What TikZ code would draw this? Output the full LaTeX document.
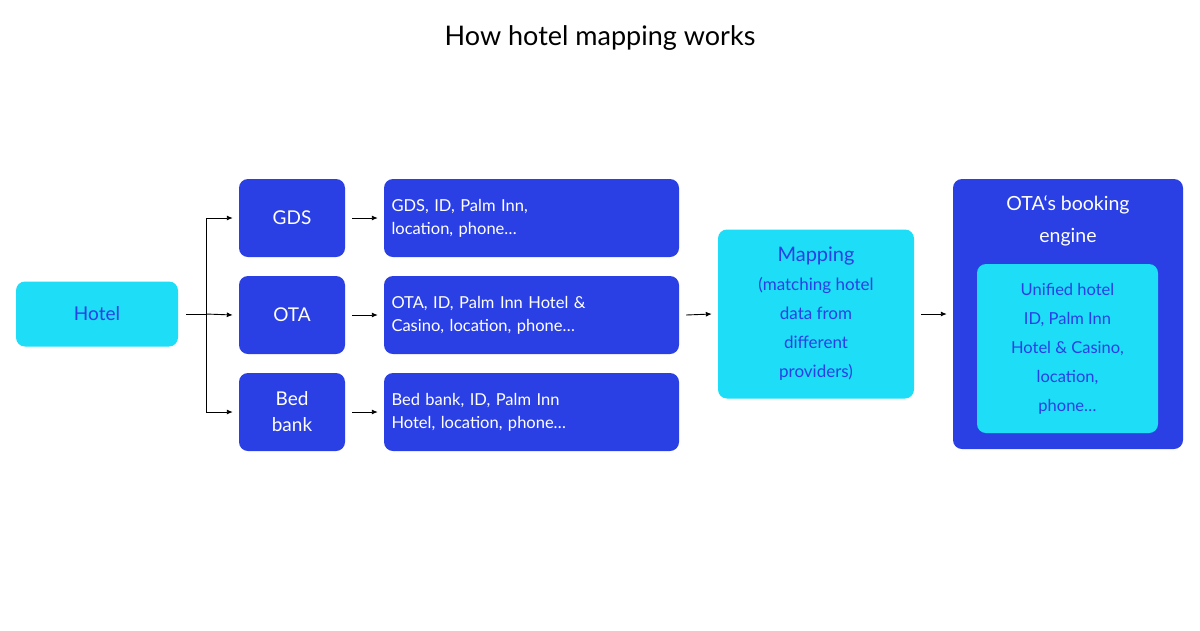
\documentclass[tikz,border=0pt]{standalone}
\usepackage{fontspec}
\setmainfont{Lato}
\usetikzlibrary{arrows.meta}
\definecolor{dblue}{HTML}{2A40E4}
\definecolor{cyanb}{HTML}{1DDDF7}
\begin{document}
\begin{tikzpicture}[x=1pt,y=-1pt,
 box/.style={rounded corners=9pt,inner sep=0pt,align=center},
 dk/.style={box,fill=dblue,text=white},
 cy/.style={box,fill=cyanb,text=dblue},
 arr/.style={-{Latex[length=6pt,width=5pt]},line width=0.9pt,black}]
\useasboundingbox[fill=white] (0,0) rectangle (1200,630);
\node[font=\fontsize{27}{30}\selectfont] (title) at (600,38) {How hotel mapping works};
\node[cy,minimum width=162pt,minimum height=65pt,font=\fontsize{19}{22}\selectfont] (hotel) at (97,314) {Hotel};
\node[dk,minimum width=106pt,minimum height=78pt,font=\fontsize{19}{22}\selectfont] (gds) at (292,218) {GDS};
\node[dk,minimum width=106pt,minimum height=78pt,font=\fontsize{19}{22}\selectfont] (ota) at (292,315) {OTA};
\node[dk,minimum width=106pt,minimum height=78pt,font=\fontsize{19}{26}\selectfont] (bed) at (292,412) {Bed\\bank};
\tikzset{info/.style={dk,minimum width=295pt,minimum height=78pt,font=\fontsize{16.5}{23}\selectfont,align=left,text width=280pt}}
\node[info] (i1) at (531.5,218) {GDS, ID, Palm Inn,\\location, phone…};
\node[info] (i2) at (531.5,315) {OTA, ID, Palm Inn Hotel \&\\Casino, location, phone…};
\node[info] (i3) at (531.5,412) {Bed bank, ID, Palm Inn\\Hotel, location, phone…};
\node[cy,minimum width=196pt,minimum height=169pt,font=\fontsize{17}{29}\selectfont] (map) at (816,314) {\fontsize{20}{29}\selectfont Mapping\\(matching hotel\\data from\\different\\providers)};
\node[dk,minimum width=230pt,minimum height=270pt] (eng) at (1068,314) {};
\node[font=\fontsize{19.5}{32}\selectfont,text=white,align=center] (engt) at (1068,221) {OTA‘s booking\\engine};
\node[cy,minimum width=181pt,minimum height=169pt,font=\fontsize{16.5}{29}\selectfont] (uni) at (1067.5,348.5) {Unified hotel\\ID, Palm Inn\\Hotel \& Casino,\\location,\\phone…};
\coordinate (br) at (206,314);
\draw[line width=0.9pt] ([xshift=8pt]hotel.east) -- (br);
\draw[line width=0.9pt] (206,218) -- (206,412);
\draw[arr] (206,218) -- ([xshift=-6pt]gds.west);
\draw[arr] (br) -- ([xshift=-6pt]ota.west);
\draw[arr] (206,412) -- ([xshift=-6pt]bed.west);
\draw[arr] ([xshift=7pt]gds.east) -- ([xshift=-6pt]i1.west);
\draw[arr] ([xshift=7pt]ota.east) -- ([xshift=-6pt]i2.west);
\draw[arr] ([xshift=7pt]bed.east) -- ([xshift=-6pt]i3.west);
\draw[arr] ([xshift=7pt]i2.east) -- ([xshift=-6pt]map.west);
\draw[arr] ([xshift=7pt]map.east) -- ([xshift=-6pt]eng.west);
\end{tikzpicture}
\end{document}
